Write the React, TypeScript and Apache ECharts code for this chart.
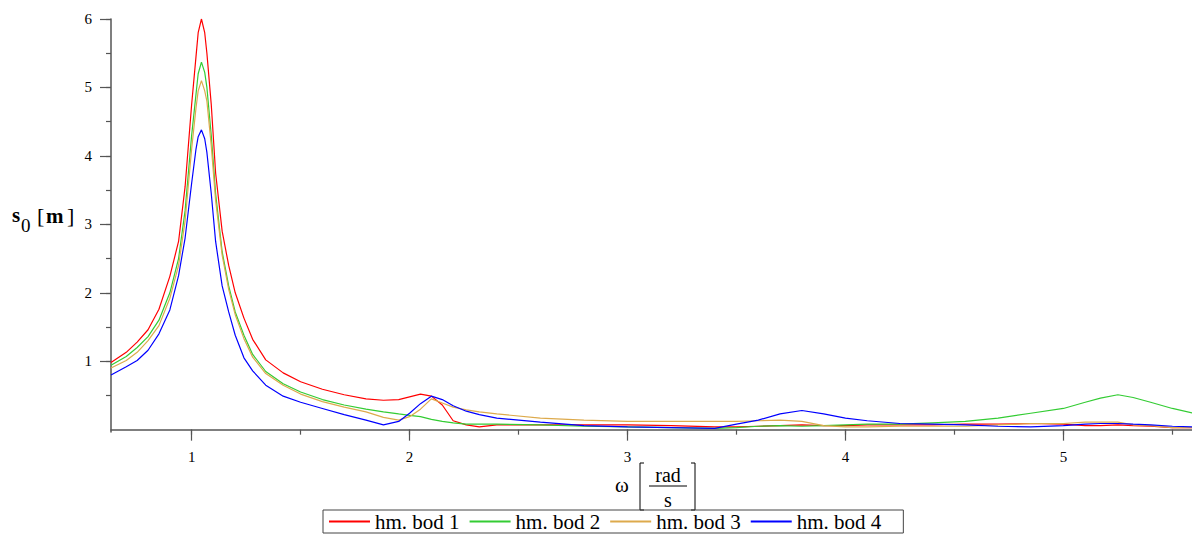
import React, { useEffect, useRef } from "react";
import * as echarts from "echarts";

const omega = [0.63, 0.7, 0.75, 0.8, 0.85, 0.9, 0.94, 0.97, 1.0, 1.02, 1.03, 1.045, 1.06, 1.07, 1.09, 1.11, 1.14, 1.17, 1.2, 1.24, 1.28, 1.34, 1.42, 1.5, 1.6, 1.7, 1.8, 1.88, 1.95, 2.0, 2.05, 2.1, 2.15, 2.2, 2.26, 2.32, 2.4, 2.6, 2.8, 3.0, 3.2, 3.4, 3.5, 3.6, 3.7, 3.8, 3.9, 4.0, 4.1, 4.25, 4.4, 4.55, 4.7, 4.85, 5.0, 5.1, 5.17, 5.25, 5.32, 5.4, 5.5, 5.6];

const bod1 = [0.98, 1.13, 1.28, 1.46, 1.76, 2.24, 2.75, 3.55, 4.75, 5.45, 5.8, 6.0, 5.8, 5.5, 4.75, 3.75, 2.9, 2.4, 2.0, 1.63, 1.32, 1.02, 0.83, 0.7, 0.59, 0.51, 0.45, 0.43, 0.44, 0.48, 0.52, 0.49, 0.36, 0.13, 0.07, 0.04, 0.07, 0.07, 0.07, 0.07, 0.06, 0.04, 0.04, 0.05, 0.06, 0.07, 0.06, 0.06, 0.07, 0.07, 0.07, 0.08, 0.08, 0.09, 0.08, 0.06, 0.06, 0.07, 0.06, 0.05, 0.03, 0.03];

const bod2 = [0.94, 1.07, 1.2, 1.36, 1.6, 2.0, 2.5, 3.2, 4.3, 4.9, 5.2, 5.37, 5.22, 5.0, 4.3, 3.45, 2.6, 2.1, 1.72, 1.38, 1.1, 0.85, 0.67, 0.55, 0.44, 0.36, 0.3, 0.26, 0.23, 0.21, 0.19, 0.15, 0.12, 0.1, 0.08, 0.08, 0.08, 0.07, 0.05, 0.04, 0.03, 0.02, 0.03, 0.05, 0.06, 0.05, 0.06, 0.07, 0.08, 0.08, 0.1, 0.12, 0.17, 0.24, 0.31, 0.4, 0.46, 0.51, 0.47, 0.4, 0.31, 0.24];

const bod3 = [0.9, 1.01, 1.13, 1.3, 1.52, 1.92, 2.4, 3.05, 4.1, 4.7, 4.95, 5.1, 4.95, 4.8, 4.15, 3.35, 2.55, 2.05, 1.68, 1.33, 1.06, 0.82, 0.65, 0.52, 0.41, 0.33, 0.26, 0.18, 0.14, 0.19, 0.3, 0.45, 0.39, 0.33, 0.29, 0.26, 0.23, 0.17, 0.14, 0.12, 0.12, 0.12, 0.12, 0.13, 0.14, 0.12, 0.06, 0.04, 0.04, 0.05, 0.05, 0.05, 0.07, 0.09, 0.09, 0.11, 0.11, 0.11, 0.07, 0.06, 0.03, 0.03];

const bod4 = [0.8, 0.92, 1.01, 1.16, 1.4, 1.75, 2.25, 2.8, 3.6, 4.1, 4.28, 4.38, 4.25, 4.05, 3.45, 2.75, 2.1, 1.72, 1.38, 1.05, 0.86, 0.65, 0.49, 0.4, 0.31, 0.22, 0.14, 0.07, 0.12, 0.24, 0.38, 0.49, 0.44, 0.35, 0.27, 0.22, 0.17, 0.11, 0.06, 0.04, 0.03, 0.02, 0.08, 0.14, 0.23, 0.28, 0.23, 0.17, 0.13, 0.09, 0.08, 0.07, 0.05, 0.04, 0.06, 0.08, 0.09, 0.09, 0.08, 0.07, 0.05, 0.04];

const seriesNames = ["hm. bod 1", "hm. bod 2", "hm. bod 3", "hm. bod 4"];
const seriesColors = ["#ff0000", "#33cc33", "#ddaa4c", "#0000ff"];
const seriesValues = [bod1, bod2, bod3, bod4];

const xMajorTicks = [1, 2, 3, 4, 5];
const xMinorTicks = [1, 1.5, 2, 2.5, 3, 3.5, 4, 4.5, 5, 5.5];
const yMajorTicks = [1, 2, 3, 4, 5, 6];
const yMinorTicks = [0.5, 1, 1.5, 2, 2.5, 3, 3.5, 4, 4.5, 5, 5.5, 6];

const FONT = "Liberation Serif";
const AXIS_COLOR = "#555555";

export default function App() {
  const ref = useRef<HTMLDivElement>(null);

  useEffect(() => {
    if (!ref.current) return;
    const chart = echarts.init(ref.current, null, { renderer: "svg" });
    const xMin = 0.63;
    const xMax = 5.59;
    const yMin = -0.034;
    const yMax = 6;

    const axisCommonX = {
      type: "value" as const,
      min: xMin,
      max: xMax,
      position: "bottom" as const,
      splitLine: { show: false },
    };
    const axisCommonY = {
      type: "value" as const,
      min: yMin,
      max: yMax,
      position: "left" as const,
      splitLine: { show: false },
    };

    chart.setOption({
      animation: false,
      backgroundColor: "#ffffff",
      grid: { left: 111, top: 19, right: 0, bottom: 103, containLabel: false },
      xAxis: [
        {
          ...axisCommonX,
          axisLine: { show: true, lineStyle: { color: AXIS_COLOR, width: 1.5 } },
          axisTick: { show: true, length: 11, customValues: xMajorTicks, lineStyle: { color: AXIS_COLOR, width: 1.2 } },
          axisLabel: {
            show: true,
            customValues: xMajorTicks,
            margin: 17,
            fontFamily: FONT,
            fontSize: 15,
            color: "#000",
          },
        },
        {
          ...axisCommonX,
          axisLine: { show: false },
          axisTick: { show: true, length: 5, customValues: xMinorTicks, lineStyle: { color: AXIS_COLOR, width: 1.2 } },
          axisLabel: { show: false },
        },
      ],
      yAxis: [
        {
          ...axisCommonY,
          axisLine: { show: true, lineStyle: { color: AXIS_COLOR, width: 1.5 } },
          axisTick: { show: true, length: 11, customValues: yMajorTicks, lineStyle: { color: AXIS_COLOR, width: 1.2 } },
          axisLabel: {
            show: true,
            customValues: yMajorTicks,
            margin: 19,
            fontFamily: FONT,
            fontSize: 15,
            color: "#000",
          },
        },
        {
          ...axisCommonY,
          axisLine: { show: false },
          axisTick: { show: true, length: 5, customValues: yMinorTicks, lineStyle: { color: AXIS_COLOR, width: 1.2 } },
          axisLabel: { show: false },
        },
      ],
      legend: {
        show: true,
        data: seriesNames,
        left: 323,
        top: 510,
        orient: "horizontal",
        borderColor: "#444",
        borderWidth: 1,
        padding: [1, 22, 1, 5],
        itemGap: 9,
        itemWidth: 41,
        itemHeight: 14,
        itemStyle: { opacity: 0 },
        textStyle: { fontFamily: FONT, fontSize: 21, color: "#000" },
      },
      series: seriesNames.map((name, i) => ({
        name,
        type: "line",
        xAxisIndex: 0,
        yAxisIndex: 0,
        data: omega.map((w, j) => [w, seriesValues[i][j]]),
        showSymbol: false,
        symbol: "none",
        smooth: false,
        clip: true,
        color: seriesColors[i],
        lineStyle: { color: seriesColors[i], width: 1.2 },
      })),
      graphic: [
        // y axis title: s0 [m]
        { type: "text", left: 12, top: 204, style: { text: "s", font: `bold 21px '${FONT}'`, fill: "#000" } },
        { type: "text", left: 21, top: 216, style: { text: "0", font: `19px '${FONT}'`, fill: "#000" } },
        { type: "text", left: 37, top: 204, style: { text: "[", font: `22px '${FONT}'`, fill: "#000" } },
        { type: "text", left: 46, top: 205, style: { text: "m", font: `bold 21px '${FONT}'`, fill: "#000" } },
        { type: "text", left: 67, top: 204, style: { text: "]", font: `22px '${FONT}'`, fill: "#000" } },
        // x axis title: ω [rad / s]
        { type: "text", left: 615, top: 474, style: { text: "ω", font: `21px '${FONT}'`, fill: "#000" } },
        { type: "polyline", shape: { points: [[644, 463], [640, 463], [640, 510], [644, 510]] }, style: { stroke: "#000", lineWidth: 1, fill: "none" } },
        { type: "polyline", shape: { points: [[691, 463], [695, 463], [695, 510], [691, 510]] }, style: { stroke: "#000", lineWidth: 1, fill: "none" } },
        { type: "text", x: 668, y: 475, style: { text: "rad", font: `20px '${FONT}'`, fill: "#000", align: "center", verticalAlign: "middle" } },
        { type: "line", shape: { x1: 649, y1: 486, x2: 687, y2: 486 }, style: { stroke: "#000", lineWidth: 1 } },
        { type: "text", x: 668, y: 500, style: { text: "s", font: `20px '${FONT}'`, fill: "#000", align: "center", verticalAlign: "middle" } },
      ],
    });

    return () => {
      chart.dispose();
    };
  }, []);

  return (
    <div
      ref={ref}
      style={{ position: "fixed", left: 0, top: 0, width: 1192, height: 535, background: "#fff" }}
    />
  );
}
